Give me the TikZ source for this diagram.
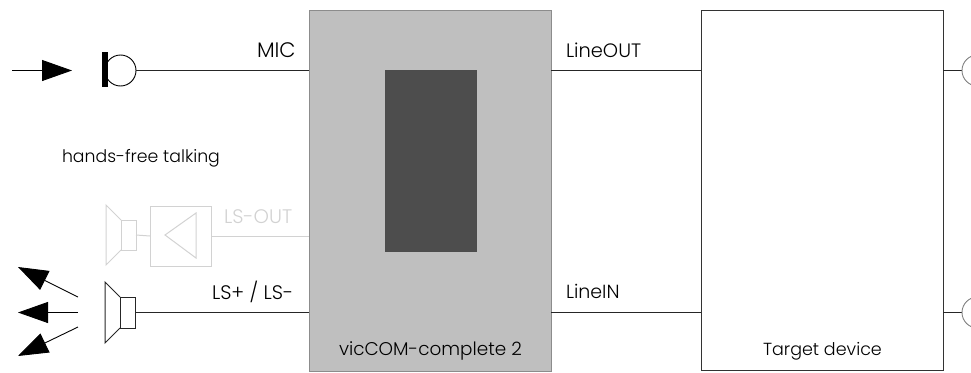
\documentclass[tikz,border=0pt]{standalone}
\usepackage{fontspec}
\setmainfont{Poppins Light}
\usetikzlibrary{arrows.meta}
\definecolor{boxgray}{HTML}{BFBFBF}
\definecolor{darkcore}{HTML}{4D4D4D}
\definecolor{faded}{HTML}{D2D2D2}
\tikzset{
  block/.style={draw=#1,line width=0.9pt,inner sep=0,outer sep=0,anchor=north west},
  lbl/.style={inner sep=0,outer sep=0,anchor=base west,font=\fontsize{#1}{20}\selectfont,text=black},
  wire/.style={line width=1pt,draw=black!85},
  ghost/.style={line width=1pt,draw=faded},
  solidarrow/.style={line width=0.9pt,draw=black,-{Triangle[length=30pt,width=21pt,fill=black]}}
}
\begin{document}
\begin{tikzpicture}[x=1pt,y=-1pt]
\useasboundingbox (0,0) rectangle (971,372);
\clip (0,0) rectangle (971,372);
% main blocks
\node[block=black!45,fill=boxgray,minimum width=242pt,minimum height=361pt] (vic) at (309,10) {};
\node[block=black!70,fill=darkcore,minimum width=91pt,minimum height=181pt] (core) at (385,70) {};
\node[block=black!80,fill=white,minimum width=242pt,minimum height=360pt] (target) at (701,10) {};
% microphone
\coordinate (inA) at (12,70.5);
\coordinate (inB) at (72,70.5);
\draw[solidarrow] (inA) -- (inB);
\node[circle,draw=black,line width=0.9pt,minimum size=31pt,inner sep=0,outer sep=0] (miccap) at (120.5,70.5) {};
\node[fill=black,minimum width=6pt,minimum height=35pt,inner sep=0,outer sep=0,anchor=north west] (micbar) at (102,52) {};
\fill[white] (96,50) rectangle (102,90);
\draw[wire] (miccap.east) -- (miccap.east -| vic.west);
% LS-OUT (faded)
\draw[ghost] (121,220) -- (106,205) -- (106,265) -- (121,250);
\node[block=faded,minimum width=15pt,minimum height=30pt] (gspk) at (121,220) {};
\node[block=faded,minimum width=61pt,minimum height=60pt] (amp) at (150,206) {};
\draw[ghost] (196,213) -- (165,235) -- (196,258) -- cycle;
\draw[ghost] (gspk.east) -- (amp.west);
\draw[ghost] (amp.east) -- (amp.east -| vic.west);
% loudspeaker
\draw[wire] (120,297) -- (105,282) -- (105,343) -- (120,328);
\node[block=black!85,minimum width=15pt,minimum height=31pt] (spk) at (120,297) {};
\draw[wire] (spk.east) -- (spk.east -| vic.west);
\coordinate (a1s) at (78,297);
\coordinate (a1e) at (18,267);
\coordinate (a2s) at (78,312.5);
\coordinate (a2e) at (18,312.5);
\coordinate (a3s) at (78,327);
\coordinate (a3e) at (18,356);
\draw[solidarrow] (a1s) -- (a1e);
\draw[solidarrow] (a2s) -- (a2e);
\draw[solidarrow] (a3s) -- (a3e);
% line connections
\coordinate (vo) at (vic.east |- miccap.east);
\draw[wire] (vo) -- (vo -| target.west);
\coordinate (vi) at (vic.east |- spk.east);
\draw[wire] (vi) -- (vi -| target.west);
\coordinate (to) at (target.east |- miccap.east);
\coordinate (ti) at (target.east |- spk.east);
\draw[wire] (to) -- ++(19,0) coordinate (toe);
\draw[wire] (ti) -- ++(19,0) coordinate (tie);
\draw[line width=0.9pt,draw=black!50] (toe) ++(15.5,0) circle[radius=15.5];
\draw[line width=0.9pt,draw=black!50] (tie) ++(15.5,0) circle[radius=15.5];
% labels
\node[lbl=21] (tmic) at (257,57) {MIC};
\node[lbl=17.3] (thf) at (62,162) {hands-free talking};
\node[lbl=19.6,text=faded] (tlso) at (224,223) {LS-OUT};
\node[lbl=19.6] (tls) at (212,299) {LS+ / LS-};
\node[lbl=19.4] (tlo) at (566,57) {LineOUT};
\node[lbl=19] (tli) at (566,298) {LineIN};
\node[lbl=18.4] (tvic) at (339,355) {vicCOM-complete 2};
\node[lbl=17.5] (ttd) at (763,355) {Target device};
\end{tikzpicture}
\end{document}
